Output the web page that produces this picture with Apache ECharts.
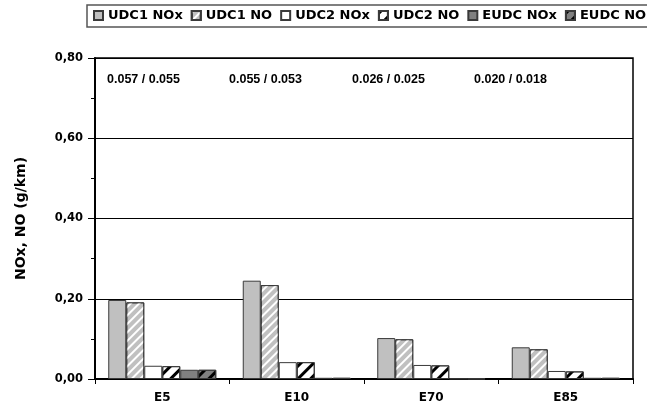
<!DOCTYPE html>
<html>
<head>
<meta charset="utf-8">
<style>
  html, body { margin: 0; padding: 0; background: #fff; }
  #chart { width: 647px; height: 411px; }
</style>
<script src="https://cdn.jsdelivr.net/npm/echarts@6/dist/echarts.min.js"></script>
</head>
<body>
<div id="chart"></div>
<script>
// Fuel blends on the x axis
const fuels = ['E5', 'E10', 'E70', 'E85'];

// Emissions per test phase (g/km)
const udc1NOx = [0.197, 0.245, 0.102, 0.079];
const udc1NO  = [0.191, 0.234, 0.099, 0.074];
const udc2NOx = [0.033, 0.042, 0.035, 0.020];
const udc2NO  = [0.032, 0.042, 0.034, 0.019];
const eudcNOx = [0.023, 0.003, 0.001, 0.003];
const eudcNO  = [0.023, 0.003, 0.001, 0.003];

// Combined-cycle NOx / NO text shown above each fuel group
const combinedLabels = ['0.057 / 0.055', '0.055 / 0.053', '0.026 / 0.025', '0.020 / 0.018'];
const combinedLabelX = [107, 229, 352, 474];

// Y axis tick values
const yTicks = [0, 0.2, 0.4, 0.6, 0.8];

const edge = '#3a3a3a';

// Diagonal "/" hatching drawn over the bar fill
function stripes(color, width, gap) {
  return {
    symbol: 'rect',
    symbolSize: 1,
    color: color,
    dashArrayX: [1, 0],
    dashArrayY: [width, gap],
    rotation: -Math.PI / 4
  };
}

function barSeries(name, data, fill, decal) {
  const s = {
    name: name,
    type: 'bar',
    data: data,
    barWidth: 18,
    barGap: '0%',
    itemStyle: { color: fill, borderColor: edge, borderWidth: 1 },
    emphasis: { disabled: true }
  };
  if (decal) s.itemStyle.decal = decal;
  return s;
}

const chart = echarts.init(document.getElementById('chart'), null, { renderer: 'canvas' });

// Legend frame runs past the right edge of the canvas
const legendFrame = {
  type: 'rect',
  shape: { x: 87, y: 5, width: 640, height: 22 },
  style: { fill: 'none', stroke: '#555', lineWidth: 1.5 },
  silent: true
};

chart.setOption({
  animation: false,
  backgroundColor: '#fff',
  textStyle: { fontFamily: 'Liberation Sans, Arial, sans-serif', color: '#000' },
  legend: {
    left: 87,
    top: 5,
    width: 900,
    padding: [4, 6, 4, 6],
    itemGap: 8,
    itemWidth: 9,
    itemHeight: 9,
    icon: 'rect',
    textStyle: { fontFamily: 'DejaVu Sans, sans-serif', fontWeight: 'bold', fontSize: 13, color: '#000' },
    selectedMode: false
  },
  grid: {
    left: 95, right: 14, top: 58, bottom: 32,
    show: true,
    borderColor: '#000',
    borderWidth: 1.5,
    containLabel: false
  },
  xAxis: {
    type: 'category',
    data: fuels,
    axisLine: { lineStyle: { color: '#000', width: 2 } },
    axisTick: { show: true, length: 5, lineStyle: { color: '#000', width: 1 } },
    axisLabel: { fontFamily: 'DejaVu Sans, sans-serif', fontWeight: 'bold', fontSize: 12, color: '#000', margin: 13 },
    splitLine: { show: false }
  },
  yAxis: {
    type: 'value',
    min: yTicks[0],
    max: yTicks[yTicks.length - 1],
    interval: 0.2,
    name: 'NOx, NO (g/km)',
    nameLocation: 'middle',
    nameGap: 67,
    nameTextStyle: { fontFamily: 'DejaVu Sans, sans-serif', fontWeight: 'bold', fontSize: 14, color: '#000' },
    axisLine: { show: true, lineStyle: { color: '#000', width: 2 } },
    axisTick: { show: true, length: 7, lineStyle: { color: '#000', width: 1 } },
    minorTick: { show: true, splitNumber: 2, length: 4, lineStyle: { color: '#000', width: 1 } },
    axisLabel: {
      fontFamily: 'DejaVu Sans, sans-serif', fontWeight: 'bold', fontSize: 11.5, color: '#000', margin: 12,
      formatter: v => v.toFixed(2).replace('.', ',')
    },
    splitLine: { show: true, lineStyle: { color: '#000', width: 1 } }
  },
  graphic: [legendFrame].concat(combinedLabels.map((t, i) => ({
    type: 'text',
    left: combinedLabelX[i],
    top: 73,
    style: { text: t, fontFamily: 'Liberation Sans, Arial, sans-serif', fontWeight: 'bold', fontSize: 12.5, fill: '#000' }
  }))),
  series: [
    barSeries('UDC1 NOx', udc1NOx, '#c0c0c0'),
    barSeries('UDC1 NO', udc1NO, '#c0c0c0', stripes('#ffffff', 2, 4)),
    barSeries('UDC2 NOx', udc2NOx, '#ffffff'),
    barSeries('UDC2 NO', udc2NO, '#ffffff', stripes('#000000', 3, 6)),
    barSeries('EUDC NOx', eudcNOx, '#808080'),
    barSeries('EUDC NO', eudcNO, '#808080', stripes('#000000', 3, 6))
  ]
});
</script>
</body>
</html>
